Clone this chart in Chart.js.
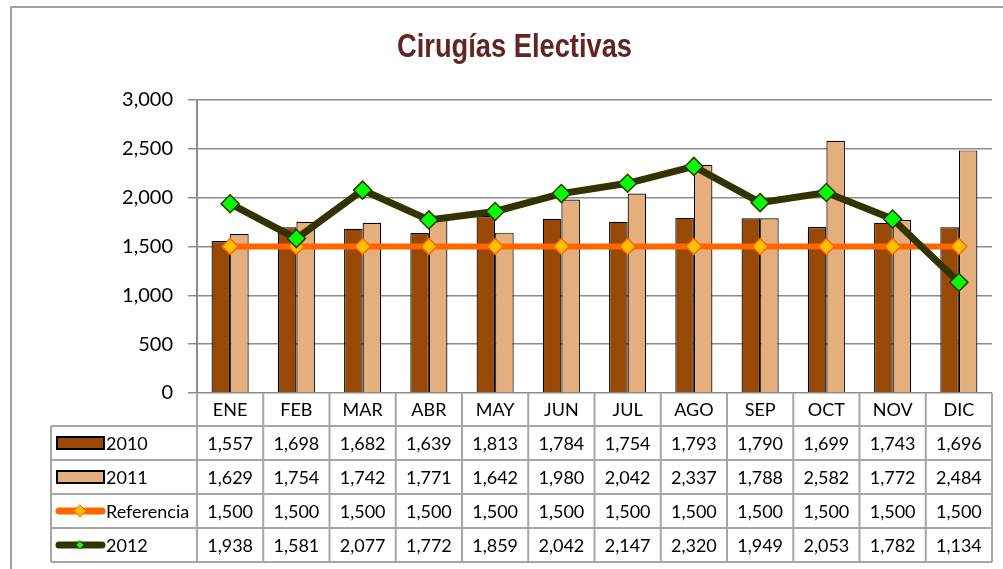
<!DOCTYPE html>
<html>
<head>
<meta charset="utf-8">
<script src="https://cdn.jsdelivr.net/npm/chart.js@4/dist/chart.umd.min.js"></script>
<style>
  body { margin: 0; background: #fff; }
  #wrap { width: 1003px; height: 569px; position: relative; }
</style>
</head>
<body>
<div id="wrap"><canvas id="chart1" width="1003" height="569"></canvas></div>
<script>
const titulo = "Cirugías Electivas";
const meses = ["ENE", "FEB", "MAR", "ABR", "MAY", "JUN", "JUL", "AGO", "SEP", "OCT", "NOV", "DIC"];
const datos2010 = [1557, 1698, 1682, 1639, 1813, 1784, 1754, 1793, 1790, 1699, 1743, 1696];
const datos2011 = [1629, 1754, 1742, 1771, 1642, 1980, 2042, 2337, 1788, 2582, 1772, 2484];
const referencia = [1500, 1500, 1500, 1500, 1500, 1500, 1500, 1500, 1500, 1500, 1500, 1500];
const datos2012 = [1938, 1581, 2077, 1772, 1859, 2042, 2147, 2320, 1949, 2053, 1782, 1134];
const yMax = 3000;
const yPaso = 500;

const colores = {
  c2010: "#984807",
  c2011: "#E4AF7C",
  ref: "#FF6600",
  refPunto: "#FFC000",
  c2012: "#333300",
  c2012Punto: "#00FF00",
  rejilla: "#8c8c8c",
  tabla: "#a6a6a6",
  titulo: "#632523"
};

const fuente = "Lato, 'Open Sans', sans-serif";

// dibuja titulo, marco y la tabla de datos debajo del grafico
const tablaPlugin = {
  id: "tabla",
  beforeDraw(chart) {
    const ctx = chart.ctx;
    ctx.save();
    ctx.fillStyle = "#fff";
    ctx.fillRect(0, 0, chart.width, chart.height);
    ctx.strokeStyle = "#a0a0a0";
    ctx.lineWidth = 2;
    ctx.strokeRect(11, 7, chart.width + 20, chart.height + 20);

    // titulo
    ctx.font = "bold 33px 'Liberation Sans Narrow', 'Arial Narrow', sans-serif";
    ctx.fillStyle = colores.titulo;
    ctx.textBaseline = "alphabetic";
    const w = ctx.measureText(titulo).width;
    const sx = 235 / w;
    ctx.translate(514.5, 57);
    ctx.scale(sx, 1);
    ctx.textAlign = "center";
    ctx.fillText(titulo, 0, 0);
    ctx.restore();
  },
  afterDraw(chart) {
    const ctx = chart.ctx;
    const x = chart.scales.x;
    const area = chart.chartArea;
    const colW = (x.right - x.left) / meses.length;
    const top = area.bottom;
    const filas = [top, 426, 460, 494, 528, 562];
    const izq = 51;

    ctx.save();
    ctx.strokeStyle = colores.tabla;
    ctx.lineWidth = 2;
    ctx.beginPath();
    // horizontales
    for (let i = 1; i < filas.length; i++) {
      const xs = i === 1 ? izq : izq;
      ctx.moveTo(xs, filas[i]);
      ctx.lineTo(x.right, filas[i]);
    }
    // verticales
    for (let i = 0; i <= meses.length; i++) {
      const px = x.left + i * colW;
      ctx.moveTo(px, top);
      ctx.lineTo(px, filas[5]);
    }
    ctx.moveTo(izq, filas[1]);
    ctx.lineTo(izq, filas[5]);
    ctx.stroke();

    ctx.font = "18px " + fuente;
    ctx.fillStyle = "#000";
    ctx.textBaseline = "middle";
    ctx.textAlign = "center";
    const series = [datos2010, datos2011, referencia, datos2012];
    meses.forEach((m, i) => {
      const cx = x.getPixelForValue(i);
      ctx.fillText(m, cx, (filas[0] + filas[1]) / 2 + 1);
      series.forEach((s, r) => {
        ctx.fillText(s[i].toLocaleString("en-US"), cx, (filas[r + 1] + filas[r + 2]) / 2 + 1);
      });
    });

    // leyenda dentro de la tabla
    const nombres = ["2010", "2011", "Referencia", "2012"];
    const lx0 = 57, lx1 = 104;
    nombres.forEach((n, r) => {
      const cy = (filas[r + 1] + filas[r + 2]) / 2;
      if (r < 2) {
        ctx.fillStyle = r === 0 ? colores.c2010 : colores.c2011;
        ctx.fillRect(lx0, cy - 6, lx1 - lx0, 12);
        ctx.strokeStyle = "#000";
        ctx.lineWidth = 2;
        ctx.strokeRect(lx0, cy - 6, lx1 - lx0, 12);
      } else {
        ctx.strokeStyle = r === 2 ? colores.ref : colores.c2012;
        ctx.lineWidth = 7;
        ctx.lineCap = "round";
        ctx.beginPath();
        ctx.moveTo(lx0 + 2, cy);
        ctx.lineTo(lx1 - 2, cy);
        ctx.stroke();
        const d = r === 2 ? 6 : 4;
        ctx.beginPath();
        ctx.moveTo(80, cy - d);
        ctx.lineTo(80 + d, cy);
        ctx.lineTo(80, cy + d);
        ctx.lineTo(80 - d, cy);
        ctx.closePath();
        ctx.fillStyle = r === 2 ? colores.refPunto : colores.c2012Punto;
        ctx.fill();
        ctx.lineWidth = 1;
        ctx.strokeStyle = r === 2 ? colores.ref : colores.c2012;
        ctx.stroke();
      }
      ctx.fillStyle = "#000";
      ctx.textAlign = "left";
      ctx.fillText(n, 106, cy + 1);
    });
    ctx.restore();
  }
};

const chart = new Chart(document.getElementById("chart1"), {
  type: "bar",
  data: {
    labels: meses,
    datasets: [
      {
        type: "line",
        label: "2012",
        data: datos2012,
        order: 1,
        borderColor: colores.c2012,
        borderWidth: 7,
        tension: 0,
        pointStyle: "rectRot",
        pointRadius: 9,
        pointBackgroundColor: colores.c2012Punto,
        pointBorderColor: colores.c2012,
        pointBorderWidth: 1.5,
        clip: false
      },
      {
        type: "line",
        label: "Referencia",
        data: referencia,
        order: 2,
        borderColor: colores.ref,
        borderWidth: 6,
        tension: 0,
        pointStyle: "rectRot",
        pointRadius: 8,
        pointBackgroundColor: colores.refPunto,
        pointBorderColor: colores.ref,
        pointBorderWidth: 1.5,
        clip: false
      },
      {
        label: "2010",
        data: datos2010,
        order: 3,
        backgroundColor: colores.c2010,
        borderColor: "#000",
        borderWidth: 1.2,
        barPercentage: 1,
        categoryPercentage: 0.56
      },
      {
        label: "2011",
        data: datos2011,
        order: 3,
        backgroundColor: colores.c2011,
        borderColor: "#000",
        borderWidth: 1.2,
        barPercentage: 1,
        categoryPercentage: 0.56
      }
    ]
  },
  options: {
    responsive: false,
    animation: false,
    layout: { padding: { top: 100, bottom: 176, left: 0, right: 11 } },
    plugins: {
      legend: { display: false },
      title: { display: false },
      tooltip: { enabled: false }
    },
    scales: {
      x: { display: false },
      y: {
        min: 0,
        max: yMax,
        afterFit(scale) { scale.width = 197; },
        ticks: {
          stepSize: yPaso,
          padding: 15,
          color: "#000",
          font: { family: fuente, size: 20 },
          callback: (v) => v.toLocaleString("en-US")
        },
        grid: { color: colores.rejilla, lineWidth: 1.5, tickLength: 9 },
        border: { color: colores.rejilla, width: 2 }
      }
    }
  },
  plugins: [tablaPlugin]
});
</script>
</body>
</html>
